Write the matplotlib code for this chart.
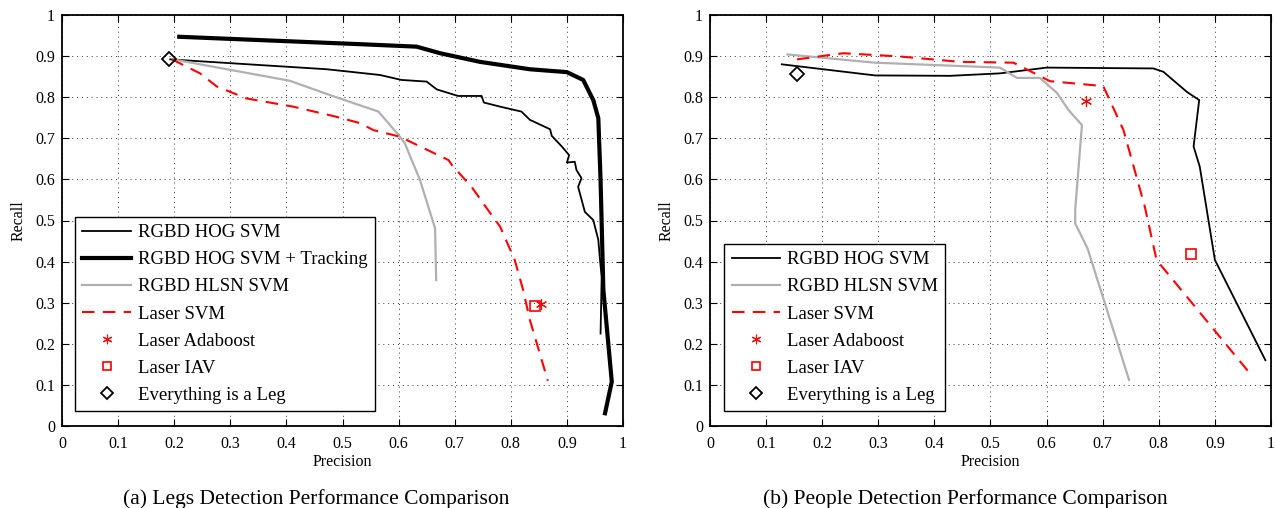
import matplotlib
matplotlib.use("Agg")
import matplotlib.pyplot as plt

plt.rcParams['font.family'] = ['Liberation Serif', 'DejaVu Serif']
plt.rcParams['mathtext.fontset'] = 'stix'

# ---------------- Left: Legs detection ----------------
legs_hog_x = [0.193, 0.472, 0.513, 0.567, 0.605, 0.650, 0.668, 0.706, 0.748, 0.752, 0.781, 0.819,
              0.834, 0.870, 0.873, 0.891, 0.904, 0.900, 0.914, 0.917, 0.926, 0.920, 0.932, 0.947,
              0.956, 0.959, 0.962, 0.960]
legs_hog_y = [0.892, 0.868, 0.862, 0.854, 0.842, 0.838, 0.819, 0.803, 0.803, 0.787, 0.777, 0.765,
              0.745, 0.722, 0.706, 0.680, 0.659, 0.641, 0.643, 0.623, 0.603, 0.582, 0.521, 0.501,
              0.453, 0.404, 0.363, 0.225]
legs_track_x = [0.209, 0.531, 0.632, 0.674, 0.745, 0.834, 0.900, 0.929, 0.947, 0.956, 0.960, 0.965, 0.980, 0.968]
legs_track_y = [0.947, 0.929, 0.923, 0.907, 0.886, 0.868, 0.861, 0.842, 0.793, 0.749, 0.599, 0.331, 0.108, 0.031]
legs_hlsn_x = [0.198, 0.406, 0.478, 0.564, 0.600, 0.611, 0.638, 0.665, 0.667]
legs_hlsn_y = [0.892, 0.840, 0.805, 0.765, 0.708, 0.688, 0.599, 0.481, 0.355]
legs_laser_x = [0.196, 0.246, 0.276, 0.329, 0.412, 0.487, 0.531, 0.555, 0.602, 0.689, 0.695, 0.730,
                0.757, 0.781, 0.807, 0.822, 0.834, 0.866]
legs_laser_y = [0.892, 0.858, 0.826, 0.797, 0.777, 0.753, 0.737, 0.720, 0.704, 0.647, 0.635, 0.582,
                0.530, 0.485, 0.404, 0.331, 0.258, 0.110]
legs_ada = (0.853, 0.297)
legs_iav = (0.844, 0.293)
legs_leg = (0.191, 0.892)

# ---------------- Right: People detection ----------------
ppl_hog_x = [0.128, 0.294, 0.428, 0.517, 0.600, 0.790, 0.808, 0.850, 0.872, 0.862, 0.873, 0.900, 0.990]
ppl_hog_y = [0.880, 0.853, 0.852, 0.858, 0.872, 0.870, 0.862, 0.813, 0.793, 0.680, 0.631, 0.404, 0.160]
ppl_hlsn_x = [0.138, 0.294, 0.517, 0.547, 0.588, 0.618, 0.639, 0.663, 0.651, 0.651, 0.673, 0.747]
ppl_hlsn_y = [0.904, 0.884, 0.872, 0.847, 0.847, 0.811, 0.769, 0.732, 0.526, 0.493, 0.432, 0.112]
ppl_laser_x = [0.155, 0.238, 0.339, 0.446, 0.541, 0.606, 0.701, 0.737, 0.775, 0.796, 0.960]
ppl_laser_y = [0.892, 0.907, 0.899, 0.886, 0.884, 0.839, 0.827, 0.720, 0.534, 0.404, 0.132]
ppl_ada = (0.670, 0.791)
ppl_iav = (0.857, 0.418)
ppl_leg = (0.155, 0.856)

ticks = [0, 0.1, 0.2, 0.3, 0.4, 0.5, 0.6, 0.7, 0.8, 0.9, 1]
tick_labels = ['0', '0.1', '0.2', '0.3', '0.4', '0.5', '0.6', '0.7', '0.8', '0.9', '1']

fig = plt.figure(figsize=(12.76, 5.08), dpi=100)
axL = fig.add_axes([62/1276, 82/508, 561/1276, 411/508])
axR = fig.add_axes([710/1276, 82/508, 561/1276, 411/508])


def style(ax):
    ax.set_xlim(0, 1)
    ax.set_ylim(0, 1)
    ax.set_xticks(ticks)
    ax.set_yticks(ticks)
    ax.set_xticklabels(tick_labels)
    ax.set_yticklabels(tick_labels)
    ax.tick_params(direction='in', top=True, right=True, labelsize=11.5, length=5, width=0.8)
    ax.tick_params(axis='x', pad=7)
    ax.tick_params(axis='y', pad=5)
    ax.grid(True, linestyle=(0, (1, 4)), color='black', linewidth=0.7, alpha=0.8)
    for s in ax.spines.values():
        s.set_linewidth(1.3)
    ax.set_xlabel('Precision', fontsize=11.5, labelpad=1.5)
    ax.set_ylabel('Recall', fontsize=11.5, labelpad=6)


def markers(ax, ada, iav, leg):
    ax.plot([ada[0]], [ada[1]], linestyle='none', marker=(6, 2, 0), color='red', markersize=8,
            markeredgewidth=0.8, label='Laser Adaboost')
    ax.plot([iav[0]], [iav[1]], linestyle='none', marker='s', markerfacecolor='none',
            markeredgecolor='red', markersize=7, markeredgewidth=1.2, label='Laser IAV')
    ax.plot([leg[0]], [leg[1]], linestyle='none', marker='D', markerfacecolor='none',
            markeredgecolor='black', markersize=7, markeredgewidth=1.3, label='Everything is a Leg')


leg_kw = dict(loc='lower left', fontsize=13.5, frameon=True, fancybox=False, edgecolor='black',
              framealpha=1, borderpad=0.4, labelspacing=0.53, handlelength=2.6,
              handletextpad=0.35, borderaxespad=0, markerscale=0.85)

style(axL)
axL.plot(legs_hog_x, legs_hog_y, color='black', linewidth=1.3, label='RGBD HOG SVM')
axL.plot(legs_track_x, legs_track_y, color='black', linewidth=3.0, label='RGBD HOG SVM + Tracking')
axL.plot(legs_hlsn_x, legs_hlsn_y, color='#b0b0b0', linewidth=1.6, label='RGBD HLSN SVM')
axL.plot(legs_laser_x, legs_laser_y, color='red', linewidth=1.5, dashes=(6, 4), label='Laser SVM')
markers(axL, legs_ada, legs_iav, legs_leg)
legL = axL.legend(bbox_to_anchor=(0.023, 0.036), **leg_kw)
legL.get_frame().set_linewidth(1.0)

style(axR)
axR.plot(ppl_hog_x, ppl_hog_y, color='black', linewidth=1.3, label='RGBD HOG SVM')
axR.plot(ppl_hlsn_x, ppl_hlsn_y, color='#b0b0b0', linewidth=1.6, label='RGBD HLSN SVM')
axR.plot(ppl_laser_x, ppl_laser_y, color='red', linewidth=1.5, dashes=(6, 4), label='Laser SVM')
markers(axR, ppl_ada, ppl_iav, ppl_leg)
legR = axR.legend(bbox_to_anchor=(0.025, 0.036), **leg_kw)
legR.get_frame().set_linewidth(1.0)

fig.text(316/1276, 9/508, '(a) Legs Detection Performance Comparison', ha='center', va='center', fontsize=15.5)
fig.text(965/1276, 9/508, '(b) People Detection Performance Comparison', ha='center', va='center', fontsize=15.5)

fig.savefig('out.png', dpi=100)
